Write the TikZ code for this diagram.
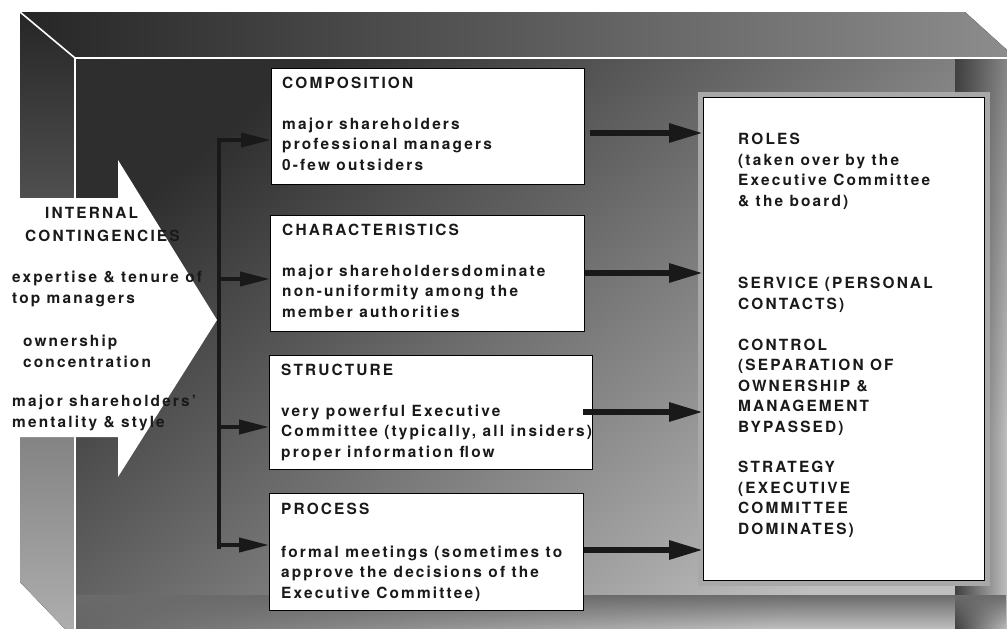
\documentclass[tikz,border=0pt]{standalone}
\usepackage{fontspec}
\setmainfont{TeX Gyre Heros}[LetterSpace=14]
\usetikzlibrary{arrows.meta,fadings}
\definecolor{ink}{gray}{0.1}

\begin{document}
\begin{tikzpicture}[x=1pt,y=-1pt,
  % multi-line texts are placed by the baseline of their last line
  txt/.style={font=\bfseries\fontsize{15.4}{20.5}\selectfont, text=ink,
    inner sep=0pt, align=left, anchor=base west},
  panel/.style={draw=black, line width=1.4pt, fill=white,
    anchor=north west, inner sep=0pt},
  trunk/.style={line width=4pt, draw=black!90},
  feed/.style={line width=4pt, draw=black!90,
    -{Triangle[length=30pt,width=14pt]}},
  outfeed/.style={line width=6pt, draw=black!90,
    -{Triangle[length=34pt,width=18pt]}},
  bevel/.style={draw=white, line width=1.6pt}]

\useasboundingbox (0,0) rectangle (1007,629);

% shaded frame: top band, left band and the recessed panel
\fill[left color=black!85, right color=black!45]
  (20,12) -- (965,12) -- (1007,50) -- (1007,58) -- (75,58) -- cycle;
\fill[top color=black!85, bottom color=black!32]
  (20,12) -- (75,58) -- (75,629) -- (65,629) -- (20,582) -- cycle;
\fill[top color=black!82, bottom color=black!25, shading angle=40]
  (75,58) rectangle (1007,629);
\fill[black!75, path fading=east] (955,58) rectangle (1007,629);
\fill[black!58, path fading=south] (75,595) rectangle (1007,629);

% bevel edges
\draw[bevel] (20,12) -- (75,58) -- (1007,58);
\draw[bevel] (75,58) -- (75,629);

% big white arrow
\fill[white] (0,198) -- (118,198) -- (118,160) -- (217,320)
  -- (118,477) -- (118,437) -- (0,437) -- cycle;

% left texts
\node[txt] (intA) at (45,218) {INTERNAL};
\node[txt] (intB) at (25,241) {CONTINGENCIES};
\node[txt] (expt) at (12,303) {expertise \& tenure of\\top managers};
\node[txt] (own)  at (23,367) {ownership\\concentration};
\node[txt] (ment) at (12,427) {major shareholders'\\mentality \& style};

% board boxes
\node[panel, minimum width=313pt, minimum height=116pt] (comp) at (271,68) {};
\node[panel, minimum width=314pt, minimum height=116pt] (char) at (270,215) {};
\node[panel, minimum width=323pt, minimum height=114pt] (struct) at (269,355) {};
\node[panel, minimum width=314pt, minimum height=117pt] (proc) at (269,493) {};

\node[txt] (compT) at (282,170) {COMPOSITION\\[20.5pt]major shareholders\\professional managers\\0-few outsiders};
\node[txt] (charT) at (282,317) {CHARACTERISTICS\\[20.5pt]major shareholdersdominate\\non-uniformity among the\\member authorities};
\node[txt] (structT) at (281,457) {STRUCTURE\\[20.5pt]very powerful Executive\\Committee (typically, all insiders)\\proper information flow};
\node[txt] (procT) at (281,598) {PROCESS\\[22pt]formal meetings (sometimes to\\approve the decisions of the\\Executive Committee)};

% roles box with its light halo
\fill[black!34] (698,92) rectangle (990,586);
\node[panel, minimum width=281pt, minimum height=483pt] (roles) at (703,97) {};
\node[txt] (rolA) at (738,206) {ROLES\\(taken over by the\\Executive Committee\\\& the board)};
\node[txt] (rolB) at (738,309) {SERVICE (PERSONAL\\CONTACTS)};
\node[txt] (rolC) at (738,432) {CONTROL\\(SEPARATION OF\\OWNERSHIP \&\\MANAGEMENT\\BYPASSED)};
\node[txt] (rolD) at (738,534) {STRATEGY\\(EXECUTIVE\\COMMITTEE\\DOMINATES)};

% distribution trunk and feeds into the boxes
\coordinate (t1) at (217,140);
\coordinate (t2) at (217,279);
\coordinate (t3) at (217,427);
\coordinate (t4) at (217,545);
\draw[trunk] (219,138) -- (219,549);
\draw[feed] (t1) -- (comp.west |- t1);
\draw[feed] (t2) -- (char.west |- t2);
\draw[feed] (t3) -- (struct.west |- t3);
\draw[feed] (t4) -- (proc.west |- t4);

% feeds into the roles box
\coordinate (r1) at (650,133);
\coordinate (r2) at (650,273);
\coordinate (r3) at (650,412);
\coordinate (r4) at (650,550);
\draw[outfeed, shorten <=5pt] (comp.east |- r1) -- (roles.west |- r1);
\draw[outfeed] (char.east |- r2) -- (roles.west |- r2);
\draw[outfeed, shorten <=-10pt] (struct.east |- r3) -- (roles.west |- r3);
\draw[outfeed] (proc.east |- r4) -- (roles.west |- r4);
\end{tikzpicture}
\end{document}
